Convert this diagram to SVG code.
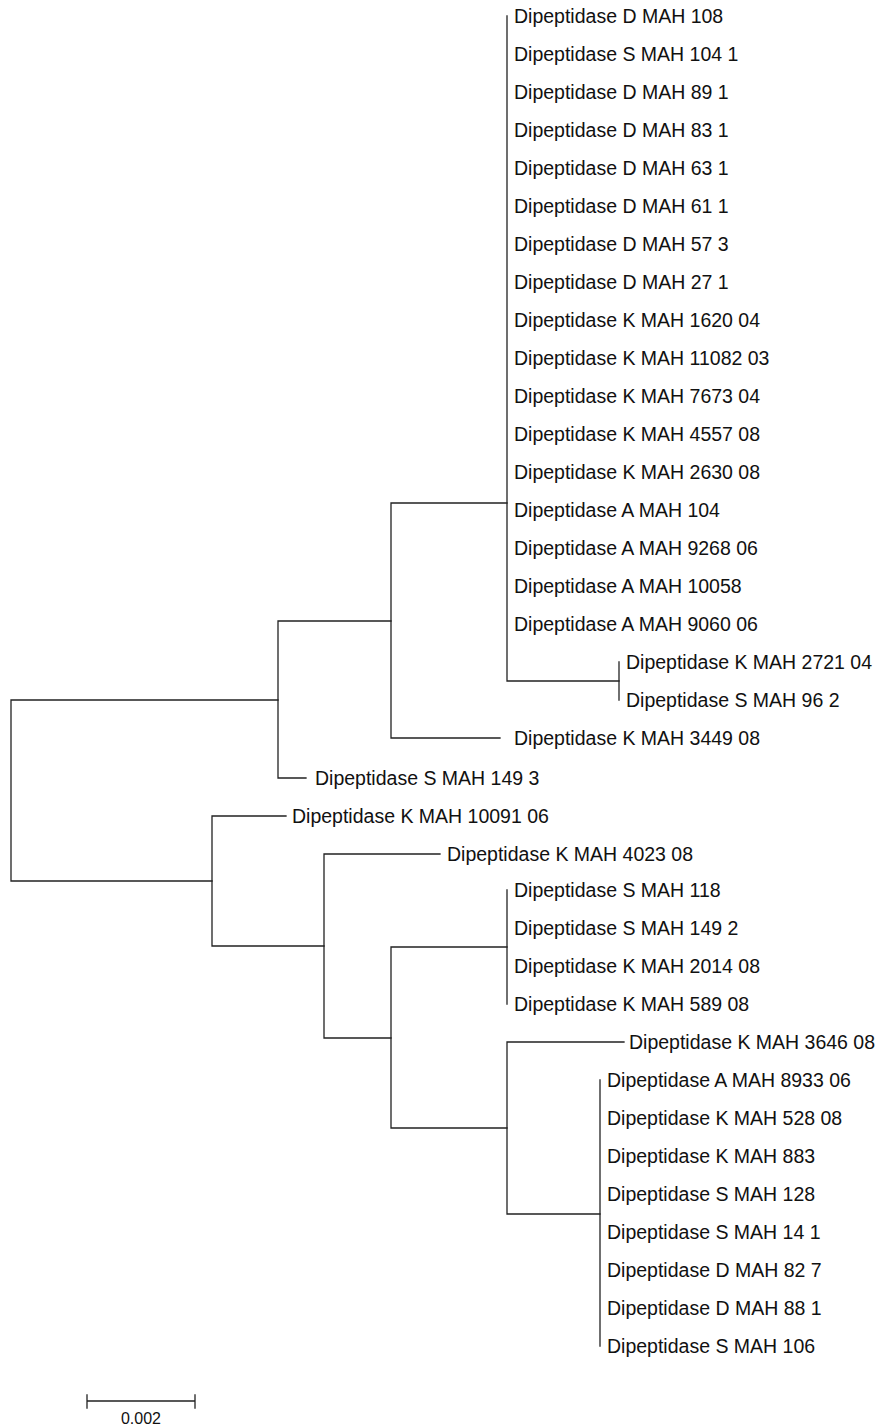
<svg xmlns="http://www.w3.org/2000/svg" width="881" height="1427" viewBox="0 0 881 1427">
<style>
.e{stroke:#222;stroke-width:1.3;fill:none;stroke-linecap:square}
.t{font-family:"Liberation Sans",Arial,sans-serif;font-size:19.5px;fill:#111}
.s{font-family:"Liberation Sans",Arial,sans-serif;font-size:16px;fill:#111}
</style>
<rect width="881" height="1427" fill="#fff"/>
<g id="connectors">
<path class="e" d="M11,700V881M11,700H278M11,881H212"/>
<path class="e" d="M278,621V778M278,621H391M278,778H306"/>
<path class="e" d="M391,503V738M391,503H507M391,738H500"/>
<path class="e" d="M507,16V681M507,681H619"/>
<path class="e" d="M619,662V700"/>
<path class="e" d="M212,816V946M212,816H286M212,946H324"/>
<path class="e" d="M324,854V1038M324,854H440M324,1038H391"/>
<path class="e" d="M391,947V1128M391,947H507M391,1128H507"/>
<path class="e" d="M507,890V1004"/>
<path class="e" d="M507,1042V1214M507,1042H624M507,1214H600"/>
<path class="e" d="M600,1080V1346"/>
</g>
<g id="leaves" class="t">
<g id="n0"><text x="514" y="23">Dipeptidase D MAH 108</text></g>
<g id="n1"><text x="514" y="61">Dipeptidase S MAH 104 1</text></g>
<g id="n2"><text x="514" y="99">Dipeptidase D MAH 89 1</text></g>
<g id="n3"><text x="514" y="137">Dipeptidase D MAH 83 1</text></g>
<g id="n4"><text x="514" y="175">Dipeptidase D MAH 63 1</text></g>
<g id="n5"><text x="514" y="213">Dipeptidase D MAH 61 1</text></g>
<g id="n6"><text x="514" y="251">Dipeptidase D MAH 57 3</text></g>
<g id="n7"><text x="514" y="289">Dipeptidase D MAH 27 1</text></g>
<g id="n8"><text x="514" y="327">Dipeptidase K MAH 1620 04</text></g>
<g id="n9"><text x="514" y="365">Dipeptidase K MAH 11082 03</text></g>
<g id="n10"><text x="514" y="403">Dipeptidase K MAH 7673 04</text></g>
<g id="n11"><text x="514" y="441">Dipeptidase K MAH 4557 08</text></g>
<g id="n12"><text x="514" y="479">Dipeptidase K MAH 2630 08</text></g>
<g id="n13"><text x="514" y="517">Dipeptidase A MAH 104</text></g>
<g id="n14"><text x="514" y="555">Dipeptidase A MAH 9268 06</text></g>
<g id="n15"><text x="514" y="593">Dipeptidase A MAH 10058</text></g>
<g id="n16"><text x="514" y="631">Dipeptidase A MAH 9060 06</text></g>
<g id="n17"><text x="626" y="669">Dipeptidase K MAH 2721 04</text></g>
<g id="n18"><text x="626" y="707">Dipeptidase S MAH 96 2</text></g>
<g id="n19"><text x="514" y="745">Dipeptidase K MAH 3449 08</text></g>
<g id="n20"><text x="315" y="785">Dipeptidase S MAH 149 3</text></g>
<g id="n21"><text x="292" y="823">Dipeptidase K MAH 10091 06</text></g>
<g id="n22"><text x="447" y="861">Dipeptidase K MAH 4023 08</text></g>
<g id="n23"><text x="514" y="897">Dipeptidase S MAH 118</text></g>
<g id="n24"><text x="514" y="935">Dipeptidase S MAH 149 2</text></g>
<g id="n25"><text x="514" y="973">Dipeptidase K MAH 2014 08</text></g>
<g id="n26"><text x="514" y="1011">Dipeptidase K MAH 589 08</text></g>
<g id="n27"><text x="629" y="1049">Dipeptidase K MAH 3646 08</text></g>
<g id="n28"><text x="607" y="1087">Dipeptidase A MAH 8933 06</text></g>
<g id="n29"><text x="607" y="1125">Dipeptidase K MAH 528 08</text></g>
<g id="n30"><text x="607" y="1163">Dipeptidase K MAH 883</text></g>
<g id="n31"><text x="607" y="1201">Dipeptidase S MAH 128</text></g>
<g id="n32"><text x="607" y="1239">Dipeptidase S MAH 14 1</text></g>
<g id="n33"><text x="607" y="1277">Dipeptidase D MAH 82 7</text></g>
<g id="n34"><text x="607" y="1315">Dipeptidase D MAH 88 1</text></g>
<g id="n35"><text x="607" y="1353">Dipeptidase S MAH 106</text></g>
</g>
<g id="scale">
<path class="e" d="M87,1401H195M87,1395V1408M195,1395V1408"/>
<text class="s" x="141" y="1424" text-anchor="middle">0.002</text>
</g>
</svg>
